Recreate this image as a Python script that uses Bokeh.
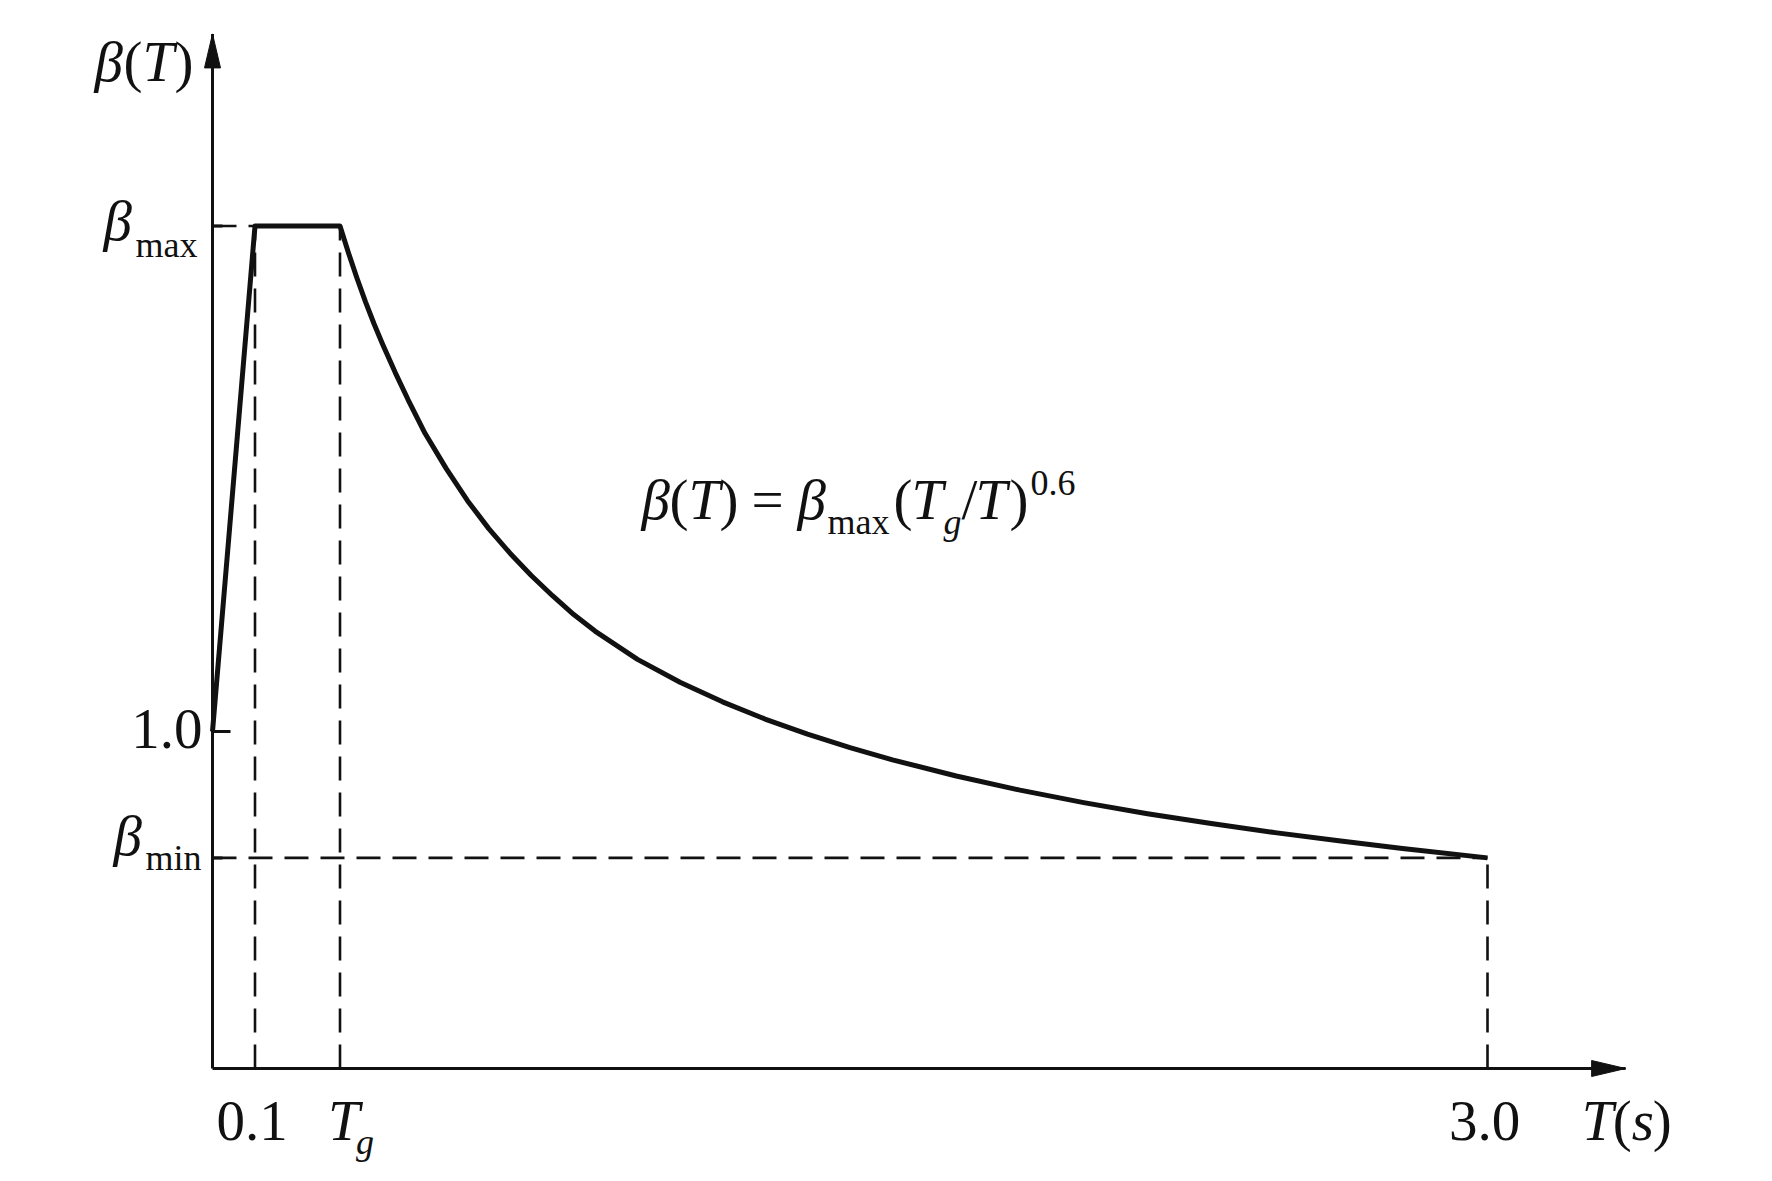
from bokeh.plotting import figure
from bokeh.models import Range1d
from bokeh.core.properties import value
from bokeh.embed import file_html
from bokeh.resources import INLINE

# ---------------- data ----------------
T_MAX_PERIOD = 0.1          # end of the rising branch
TG = 0.3                    # characteristic period T_g
T_END = 3.0                 # end of the spectrum
BETA_MAX = 2.5
BETA_MIN = 0.625

rise_T = [0.0, 0.1]
rise_beta = [1.0, 2.5]
plateau_T = [0.1, 0.3]
plateau_beta = [2.5, 2.5]
decay_T = [0.30, 0.32, 0.34, 0.36, 0.38, 0.40, 0.43, 0.46, 0.50, 0.55,
           0.60, 0.65, 0.70, 0.75, 0.80, 0.85, 0.90, 1.00, 1.10, 1.20,
           1.30, 1.40, 1.50, 1.60, 1.75, 1.90, 2.05, 2.20, 2.35, 2.50,
           2.65, 2.80, 3.00]
decay_beta = [2.50, 2.42, 2.345, 2.275, 2.21, 2.15, 2.065, 1.985, 1.885, 1.78,
              1.685, 1.602, 1.529, 1.463, 1.403, 1.347, 1.298, 1.214, 1.146,
              1.088, 1.037, 0.992, 0.952, 0.916, 0.868, 0.826, 0.789, 0.756,
              0.727, 0.70, 0.676, 0.653, 0.625]

x_tick_vals = [0.1, 3.0]
x_tick_labels = ["0.1", "3.0"]
y_tick_vals = [1.0]
y_tick_labels = ["1.0"]

X_AXIS_END = 3.325
Y_AXIS_END = 3.07

# ---------------- geometry of the canvas ----------------
W, H = 1766, 1176
XS, YS = 425.0, 337.0       # pixels per data unit
OX, OY = 212.0, 1068.0      # page position of the origin
PAGE = 0.0


def dx(px):
    return px / XS


def dy(px):
    return px / YS


def at(ix, iy):
    return (ix - OX) / XS, (OY - iy) / YS


p = figure(width=W, height=H,
           x_range=Range1d((PAGE - OX) / XS, (PAGE + W - OX) / XS),
           y_range=Range1d((OY - PAGE - H) / YS, (OY - PAGE) / YS),
           output_backend="svg", toolbar_location=None,
           x_axis_type=None, y_axis_type=None, min_border=0,
           outline_line_color=None, background_fill_color="white",
           border_fill_color="white")

INK = "#111111"
FONT = value("Liberation Serif")

# ---------------- axes with arrows ----------------
p.line([0, X_AXIS_END], [0, 0], line_color=INK, line_width=3)
p.line([0, 0], [0, Y_AXIS_END], line_color=INK, line_width=3)
hl_x, hw_x = dx(34), dy(8)
p.patch([X_AXIS_END - hl_x, X_AXIS_END, X_AXIS_END - hl_x],
        [hw_x, 0, -hw_x], fill_color=INK, line_color=INK, line_width=1)
hl_y, hw_y = dy(34), dx(8)
p.patch([-hw_y, 0, hw_y], [Y_AXIS_END - hl_y, Y_AXIS_END, Y_AXIS_END - hl_y],
        fill_color=INK, line_color=INK, line_width=1)

# tick at 1.0 and small ticks at beta levels
for yv in y_tick_vals:
    p.line([0, dx(18)], [yv, yv], line_color=INK, line_width=3)
for yv in [BETA_MAX, BETA_MIN]:
    p.line([0, dx(10)], [yv, yv], line_color=INK, line_width=3)

# ---------------- dashed guide lines ----------------
DASH = "24 12"
p.segment(x0=[T_MAX_PERIOD, TG, T_END, 0, 0],
          y0=[0, 0, 0, BETA_MAX, BETA_MIN],
          x1=[T_MAX_PERIOD, TG, T_END, T_MAX_PERIOD, T_END],
          y1=[BETA_MAX, BETA_MAX, BETA_MIN, BETA_MAX, BETA_MIN],
          line_color=INK, line_width=2.6, line_dash=DASH)

# ---------------- spectrum curve ----------------
curve_T = rise_T + plateau_T[1:] + decay_T[1:]
curve_beta = rise_beta + plateau_beta[1:] + decay_beta[1:]
p.line(curve_T, curve_beta, line_color=INK, line_width=5,
       line_join="round")


# ---------------- texts ----------------
def put(x, y, s, size, italic=False, align="left"):
    # text is laid out about 0.36 em below the requested baseline; lift it
    p.text(x=[x], y=[y + dy(0.36 * size)], text=[s], text_font=FONT,
           text_font_size=f"{size}px",
           text_font_style="italic" if italic else "normal",
           text_align=align, text_baseline="alphabetic", text_color=INK)


F, S = 57, 36

# tick labels on the T axis
for v, lab in zip(x_tick_vals, x_tick_labels):
    put(v - dx(3), -dy(73), lab, F, align="center")
# T_g label
put(TG - dx(12), -dy(73), "T", F, italic=True)
put(TG + dx(16), -dy(86), "g", S, italic=True)
# axis name T(s)
put(X_AXIS_END - dx(44), -dy(73), "T", F, italic=True)
put(X_AXIS_END - dx(13), -dy(73), "(", F)
put(X_AXIS_END + dx(6), -dy(73), "s", F, italic=True)
put(X_AXIS_END + dx(27), -dy(73), ")", F)

# tick labels on the beta axis
for v, lab in zip(y_tick_vals, y_tick_labels):
    put(-dx(10), v - dy(18), lab, F, align="right")
# beta_max / beta_min
put(-dx(109), BETA_MAX - dy(15), "β", F, italic=True)
put(-dx(77), BETA_MAX - dy(32), "max", S)
put(-dx(99), BETA_MIN - dy(-2), "β", F, italic=True)
put(-dx(67), BETA_MIN - dy(13), "min", S)

# axis name beta(T)
tx, ty = at(94, 82)
put(tx, ty, "β", F, italic=True)
put(tx + dx(29), ty, "(", F)
put(tx + dx(48), ty, "T", F, italic=True)
put(tx + dx(80), ty, ")", F)

# formula
fx, fy = at(641, 520)
pieces = [
    ("β", 0, 0, F, True), ("(", 28, 0, F, False), ("T", 47, 0, F, True),
    (")", 78, 0, F, False), ("=", 110, 0, F, False), ("β", 156, 0, F, True),
    ("max", 186, -14, S, False), ("(", 252, 0, F, False),
    ("T", 270, 0, F, True), ("g", 302, -14, S, True),
    ("/", 320, 0, F, False), ("T", 334, 0, F, True),
    (")", 368, 0, F, False), ("0.6", 389, 25, S, False),
]
for s, ox, oy, size, it in pieces:
    put(fx + dx(ox), fy + dy(oy), s, size, italic=it)

open("out.html", "w").write(file_html(p, INLINE))
